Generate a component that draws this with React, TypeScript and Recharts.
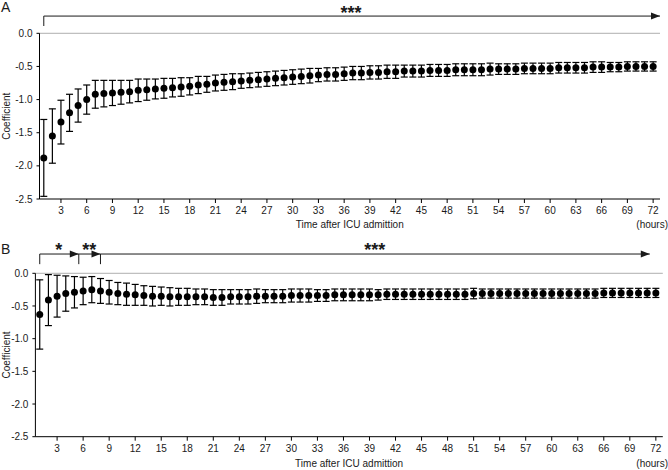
import React from 'react';
import { ScatterChart, Scatter, XAxis, YAxis, ErrorBar, ReferenceLine, ReferenceDot } from 'recharts';

const HOURS = [
  1, 2, 3, 4, 5, 6, 7, 8, 9, 10, 11, 12, 13, 14, 15, 16, 17, 18, 19, 20, 21, 22, 23, 24,
  25, 26, 27, 28, 29, 30, 31, 32, 33, 34, 35, 36, 37, 38, 39, 40, 41, 42, 43, 44, 45, 46, 47, 48,
  49, 50, 51, 52, 53, 54, 55, 56, 57, 58, 59, 60, 61, 62, 63, 64, 65, 66, 67, 68, 69, 70, 71, 72,
];

const COEF_A = [
  -1.88, -1.55, -1.34, -1.2, -1.09, -1.0, -0.92, -0.91, -0.9, -0.89,
  -0.88, -0.86, -0.85, -0.84, -0.83, -0.82, -0.81, -0.8, -0.78, -0.77,
  -0.75, -0.74, -0.73, -0.72, -0.71, -0.7, -0.69, -0.68, -0.67, -0.66,
  -0.65, -0.64, -0.63, -0.62, -0.62, -0.61, -0.6, -0.6, -0.59, -0.59,
  -0.58, -0.58, -0.57, -0.57, -0.57, -0.56, -0.56, -0.56, -0.55, -0.55,
  -0.55, -0.55, -0.54, -0.54, -0.54, -0.54, -0.53, -0.53, -0.53, -0.53,
  -0.52, -0.52, -0.52, -0.52, -0.51, -0.51, -0.51, -0.51, -0.5, -0.5,
  -0.5, -0.5,
];

const ERR_A = [
  0.58, 0.41, 0.33, 0.28, 0.25, 0.22, 0.21, 0.2, 0.19, 0.18,
  0.17, 0.17, 0.16, 0.15, 0.15, 0.14, 0.14, 0.13, 0.13, 0.12,
  0.12, 0.12, 0.12, 0.11, 0.11, 0.11, 0.11, 0.11, 0.11, 0.11,
  0.11, 0.11, 0.1, 0.1, 0.1, 0.1, 0.1, 0.1, 0.1, 0.1,
  0.1, 0.1, 0.09, 0.09, 0.09, 0.09, 0.09, 0.09, 0.09, 0.09,
  0.09, 0.09, 0.09, 0.08, 0.08, 0.08, 0.08, 0.08, 0.08, 0.08,
  0.08, 0.08, 0.08, 0.08, 0.08, 0.08, 0.07, 0.07, 0.07, 0.07,
  0.07, 0.07,
];

const COEF_B = [
  -0.63, -0.41, -0.35, -0.31, -0.29, -0.27, -0.25, -0.27, -0.29, -0.31,
  -0.32, -0.33, -0.34, -0.35, -0.35, -0.36, -0.36, -0.36, -0.36, -0.36,
  -0.37, -0.37, -0.36, -0.36, -0.36, -0.35, -0.35, -0.35, -0.35, -0.34,
  -0.34, -0.34, -0.34, -0.34, -0.33, -0.33, -0.33, -0.33, -0.33, -0.33,
  -0.32, -0.32, -0.32, -0.32, -0.32, -0.32, -0.32, -0.32, -0.32, -0.32,
  -0.31, -0.31, -0.31, -0.31, -0.31, -0.31, -0.31, -0.31, -0.31, -0.31,
  -0.31, -0.31, -0.31, -0.31, -0.31, -0.3, -0.3, -0.3, -0.3, -0.3,
  -0.3, -0.3,
];

const ERR_B = [
  0.53, 0.39, 0.32, 0.27, 0.24, 0.21, 0.2, 0.19, 0.18, 0.17,
  0.17, 0.16, 0.15, 0.15, 0.14, 0.14, 0.13, 0.13, 0.12, 0.12,
  0.12, 0.12, 0.11, 0.11, 0.11, 0.11, 0.1, 0.1, 0.1, 0.1,
  0.1, 0.1, 0.09, 0.09, 0.09, 0.09, 0.09, 0.09, 0.09, 0.08,
  0.08, 0.08, 0.08, 0.08, 0.08, 0.08, 0.08, 0.08, 0.08, 0.08,
  0.08, 0.07, 0.07, 0.07, 0.07, 0.07, 0.07, 0.07, 0.07, 0.07,
  0.07, 0.07, 0.07, 0.07, 0.07, 0.07, 0.07, 0.07, 0.07, 0.07,
  0.07, 0.07,
];

const HOUR_TICKS = [3, 6, 9, 12, 15, 18, 21, 24, 27, 30, 33, 36, 39, 42, 45, 48, 51, 54, 57, 60, 63, 66, 69, 72];
const COEF_TICKS = [0, -0.5, -1, -1.5, -2, -2.5];

// significance brackets: start hour, arrow tip hour, stars and where they sit
const SIG_A = [{ start: 1, end: 72.8, stars: '***', starX: 36.8 }];
const SIG_B = [
  { start: 1, end: 5.5, stars: '*', starX: 3.2 },
  { start: 5.5, end: 8, stars: '**', starX: 6.7 },
  { start: 8, end: 71.3, stars: '***', starX: 39.6 },
];

const FONT = '"Liberation Sans", Arial, sans-serif';
const INK = '#1a1a1a';

const Dot = (p: any) => <circle cx={p.cx} cy={p.cy} r={3.5} fill="#000" />;

const Arrowhead = (p: any) => (
  <polygon points={`${p.cx - 9},${p.cy - 3.5} ${p.cx},${p.cy} ${p.cx - 9},${p.cy + 3.5}`} fill={INK} />
);

const starShape = (text: string) => (p: any) => (
  <text x={p.cx} y={p.cy} textAnchor="middle" fontSize={18} fontWeight="bold" fill={INK} fontFamily={FONT}>
    {text}
  </text>
);

interface PanelProps {
  coef: number[];
  err: number[];
  sig: { start: number; end: number; stars: string; starX: number }[];
  top: number;
  left: number;
  right: number;
  axisHeight: number;
  titleOffset: number;
  bracketTop: number;
  bracketFoot: number;
  starY: number;
}

const Panel = ({ coef, err, sig, top, left, right, axisHeight, titleOffset, bracketTop, bracketFoot, starY }: PanelProps) => {
  const data = HOURS.map((h, i) => ({ hour: h, coef: coef[i], err: err[i] }));
  const tick = { fontSize: 10, fill: INK, fontFamily: FONT };
  return (
    <ScatterChart width={668} height={235} margin={{ top, right, bottom: 0, left: 0 }}>
      <XAxis
        type="number"
        dataKey="hour"
        domain={[0.5, 72.8]}
        ticks={HOUR_TICKS}
        interval={0}
        height={axisHeight}
        tick={tick}
        tickSize={4}
        tickMargin={4}
        axisLine={{ stroke: '#000', strokeWidth: 1 }}
        tickLine={{ stroke: '#000' }}
        label={{ value: 'Time after ICU admittion', position: 'insideBottom', offset: titleOffset, fontSize: 10, fill: INK, fontFamily: FONT }}
      />
      <YAxis
        type="number"
        dataKey="coef"
        domain={[-2.5, 0]}
        ticks={COEF_TICKS}
        interval={0}
        width={left}
        tick={tick}
        tickSize={3}
        tickMargin={4}
        tickFormatter={(v: number) => v.toFixed(1)}
        axisLine={{ stroke: '#000', strokeWidth: 1 }}
        tickLine={{ stroke: '#000' }}
        label={{ value: 'Coefficient', angle: -90, position: 'insideLeft', offset: 6, fontSize: 10, fill: INK, fontFamily: FONT, style: { textAnchor: 'middle' } }}
      />
      <ReferenceLine y={0} stroke="#9a9a9a" strokeWidth={0.8} />
      {sig.map((s, i) => (
        <ReferenceLine
          key={`v${i}`}
          segment={[{ x: s.start, y: bracketFoot }, { x: s.start, y: bracketTop }]}
          stroke={INK}
          strokeWidth={1}
          ifOverflow="visible"
        />
      ))}
      {sig.map((s, i) => (
        <ReferenceLine
          key={`h${i}`}
          segment={[{ x: s.start, y: bracketTop }, { x: s.end, y: bracketTop }]}
          stroke={INK}
          strokeWidth={1}
          ifOverflow="visible"
        />
      ))}
      {sig.map((s, i) => (
        <ReferenceDot key={`a${i}`} x={s.end} y={bracketTop} ifOverflow="visible" shape={Arrowhead} />
      ))}
      {sig.map((s, i) => (
        <ReferenceDot key={`s${i}`} x={s.starX} y={starY} ifOverflow="visible" shape={starShape(s.stars)} />
      ))}
      <Scatter data={data} dataKey="coef" shape={Dot} isAnimationActive={false}>
        <ErrorBar dataKey="err" direction="y" width={3.5} stroke="#000" strokeWidth={1.2} isAnimationActive={false} />
      </Scatter>
    </ScatterChart>
  );
};

const App = () => (
  <div style={{ position: 'absolute', left: 0, top: 0, width: 668, height: 470, background: '#fff', fontFamily: FONT }}>
    <div style={{ position: 'absolute', left: 0, top: 0 }}>
      <Panel
        coef={COEF_A}
        err={ERR_A}
        sig={SIG_A}
        top={33.3}
        left={39.5}
        right={8}
        axisHeight={36}
        titleOffset={7.5}
        bracketTop={0.26}
        bracketFoot={0.11}
        starY={0.22}
      />
    </div>
    <div style={{ position: 'absolute', left: 0, top: 235 }}>
      <Panel
        coef={COEF_B}
        err={ERR_B}
        sig={SIG_B}
        top={38.3}
        left={35.4}
        right={5.2}
        axisHeight={33.3}
        titleOffset={3}
        bracketTop={0.295}
        bracketFoot={0.14}
        starY={0.27}
      />
    </div>
    <svg width={668} height={470} style={{ position: 'absolute', left: 0, top: 0, pointerEvents: 'none' }}>
      <text x={1} y={11.7} fontSize={14} fill={INK} fontFamily={FONT}>A</text>
      <text x={1} y={254} fontSize={14} fill={INK} fontFamily={FONT}>B</text>
      <text x={668} y={227.5} fontSize={10} fill={INK} fontFamily={FONT} textAnchor="end">(hours)</text>
      <text x={668} y={467} fontSize={10} fill={INK} fontFamily={FONT} textAnchor="end">(hours)</text>
    </svg>
  </div>
);

export default App;
